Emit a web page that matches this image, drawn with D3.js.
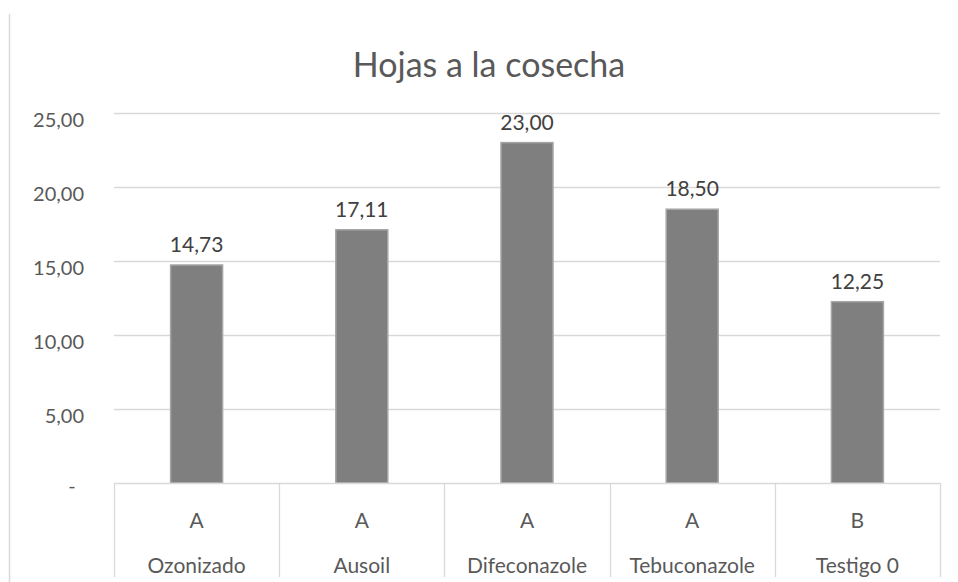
<!DOCTYPE html>
<html><head><meta charset="utf-8">
<script src="https://cdn.jsdelivr.net/npm/d3@7"></script>
<style>body{margin:0;background:#fff}svg{display:block}</style>
</head><body>
<svg id="c" width="958" height="582"></svg>
<script>
const categories = ["Ozonizado","Ausoil","Difeconazole","Tebuconazole","Testigo 0"];
const groups = ["A","A","A","A","B"];
const values = [14.73,17.11,23.00,18.50,12.25];
const yTicks = [0,5,10,15,20,25];
const title = "Hojas a la cosecha";

const svg = d3.select("#c");
const font = "Lato, 'Open Sans', sans-serif";
const plotLeft = 114, plotRight = 940, plotTop = 113, plotBase = 483;
const x = d3.scaleBand().domain(categories).range([plotLeft,plotRight]).paddingInner(0).paddingOuter(0);
const y = d3.scaleLinear().domain([0,25]).range([plotBase,plotTop]);
const fmt = v => v === 0 ? "-" : d3.format(".2f")(v).replace(".", ",");

svg.append("line").attr("x1",9.5).attr("x2",9.5).attr("y1",14).attr("y2",582).attr("stroke","#d9d9d9").attr("stroke-width",1.5);

svg.append("text").attr("x",489).attr("y",77).attr("text-anchor","middle")
  .attr("font-family",font).attr("font-size",34).attr("fill","#595959").text(title);

svg.selectAll(".grid").data(yTicks.filter(t=>t>0)).join("line")
  .attr("x1",plotLeft).attr("x2",plotRight).attr("y1",d=>Math.round(y(d))+0.5).attr("y2",d=>Math.round(y(d))+0.5)
  .attr("stroke","#d9d9d9").attr("stroke-width",1.3);

svg.selectAll(".yl").data(yTicks).join("text")
  .attr("x",d=>d===0?72:84).attr("y",d=>y(d)+(d===0?10:14)).attr("text-anchor",d=>d===0?"middle":"end")
  .attr("font-family",font).attr("font-size",20).attr("fill","#595959").text(fmt);

const bw = 52;
svg.selectAll(".bar").data(values).join("rect")
  .attr("x",(d,i)=>x(categories[i])+x.bandwidth()/2-bw/2)
  .attr("y",d=>y(d)).attr("width",bw).attr("height",d=>plotBase-y(d))
  .attr("fill","#7f7f7f").attr("stroke","#a6a6a6").attr("stroke-width",1.5);

svg.selectAll(".dl").data(values).join("text")
  .attr("x",(d,i)=>x(categories[i])+x.bandwidth()/2).attr("y",d=>y(d)-13)
  .attr("text-anchor","middle").attr("font-family",font).attr("font-size",21).attr("fill","#404040").text(fmt);

svg.append("line").attr("x1",plotLeft).attr("x2",plotRight).attr("y1",plotBase+0.5).attr("y2",plotBase+0.5).attr("stroke","#d9d9d9").attr("stroke-width",1.3);
const edges = categories.map(c=>x(c)).concat([plotRight]);
svg.selectAll(".div").data(edges).join("line")
  .attr("x1",d=>Math.round(d)+0.5).attr("x2",d=>Math.round(d)+0.5).attr("y1",plotBase).attr("y2",577)
  .attr("stroke","#d9d9d9").attr("stroke-width",1.3);

svg.selectAll(".g").data(groups).join("text")
  .attr("x",(d,i)=>x(categories[i])+x.bandwidth()/2).attr("y",528)
  .attr("text-anchor","middle").attr("font-family",font).attr("font-size",21).attr("fill","#595959").text(d=>d);
svg.selectAll(".cat").data(categories).join("text")
  .attr("x",d=>x(d)+x.bandwidth()/2).attr("y",573)
  .attr("text-anchor","middle").attr("font-family",font).attr("font-size",21).attr("fill","#595959").text(d=>d);
</script>
</body></html>
